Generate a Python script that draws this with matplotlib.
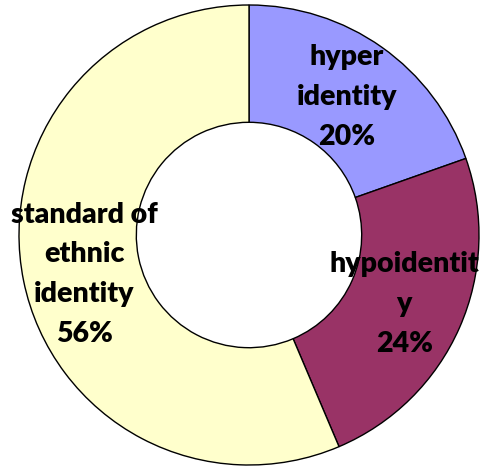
import matplotlib.pyplot as plt

labels = ["hyper\nidentity", "hypoidentit\ny", "standard of\nethnic\nidentity"]
shares = [19.6, 24.0, 56.4]
colours = ["#9999FF", "#993366", "#FFFFCC"]

# label centres, data units (pie radius = 1)
label_pos = [(0.425, 0.60), (0.675, -0.30), (-0.715, -0.17)]

plt.rcParams['font.family'] = ['Lato', 'DejaVu Sans']

fig = plt.figure(figsize=(4.83, 4.66), dpi=100)
ax = fig.add_axes([0, 0, 1, 1])

ax.pie(shares, colors=colours, startangle=90, counterclock=False,
       radius=1.0, wedgeprops=dict(width=0.51, edgecolor='black', linewidth=1.0))

for (x, y), name, v in zip(label_pos, labels, shares):
    ax.text(x, y, f"{name}\n{v:.0f}%", ha='center', va='center',
            fontsize=20.5, fontweight='heavy', linespacing=1.65)

# centre at pixel (249, 235), radius 230 px
ax.set_xlim(-249 / 230, (483 - 249) / 230)
ax.set_ylim(-(466 - 235) / 230, 235 / 230)
ax.set_aspect('auto')
ax.axis('off')

fig.savefig("out.png", dpi=100)
